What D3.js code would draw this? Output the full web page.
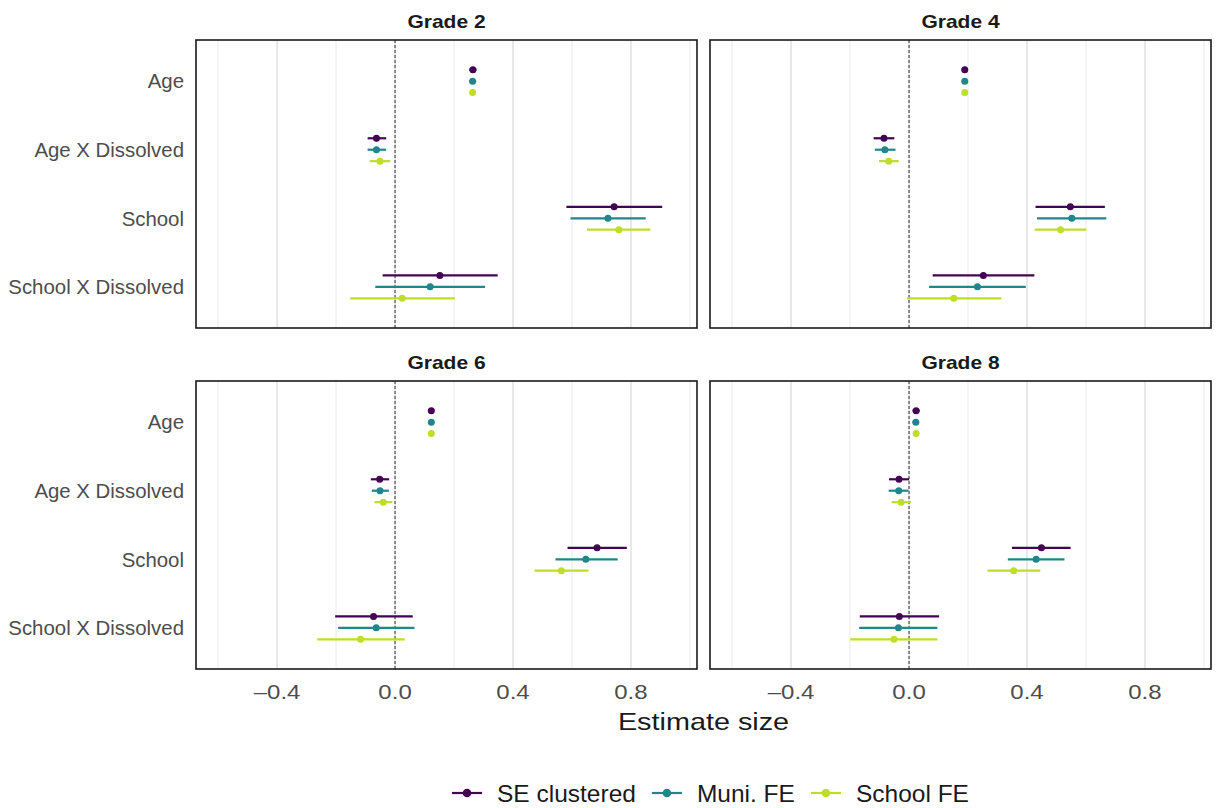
<!DOCTYPE html>
<html>
<head>
<meta charset="utf-8">
<script src="https://cdn.jsdelivr.net/npm/d3@7"></script>
<style>
  body { margin: 0; background: #fff; }
  svg { display: block; font-family: "Liberation Sans", Arial, sans-serif; }
</style>
</head>
<body>
<svg id="chart" width="1216" height="808"></svg>
<script>
// facets, terms and models
var grades = ["Grade 2", "Grade 4", "Grade 6", "Grade 8"];
var terms = ["Age", "Age X Dissolved", "School", "School X Dissolved"];
var models = ["SE clustered", "Muni. FE", "School FE"];
var modelColors = ["#440154", "#21868b", "#bddf26"];
var xTicks = [-0.4, 0.0, 0.4, 0.8];
var xMinor = [-0.6, -0.2, 0.2, 0.6, 1.0];

// estimates, one row per grade, one value per term
var seEst = [[0.264, -0.063, 0.743, 0.152], [0.189, -0.085, 0.547, 0.252], [0.123, -0.052, 0.685, -0.073], [0.024, -0.034, 0.449, -0.033]];
var seLow = [[0.252, -0.093, 0.581, -0.042], [0.178, -0.120, 0.429, 0.080], [0.113, -0.082, 0.585, -0.203], [0.012, -0.068, 0.349, -0.167]];
var seHigh = [[0.276, -0.030, 0.906, 0.348], [0.200, -0.050, 0.664, 0.425], [0.133, -0.020, 0.786, 0.060], [0.036, 0.000, 0.548, 0.102]];

var muniEst = [[0.263, -0.063, 0.722, 0.119], [0.189, -0.082, 0.552, 0.232], [0.123, -0.051, 0.647, -0.064], [0.023, -0.035, 0.431, -0.036]];
var muniLow = [[0.251, -0.093, 0.595, -0.067], [0.179, -0.116, 0.434, 0.068], [0.114, -0.079, 0.544, -0.193], [0.012, -0.069, 0.335, -0.169]];
var muniHigh = [[0.275, -0.030, 0.850, 0.305], [0.199, -0.046, 0.669, 0.396], [0.132, -0.021, 0.755, 0.066], [0.034, -0.002, 0.527, 0.096]];

var schoolEst = [[0.263, -0.051, 0.759, 0.024], [0.189, -0.069, 0.514, 0.152], [0.123, -0.040, 0.564, -0.117], [0.024, -0.027, 0.355, -0.051]];
var schoolLow = [[0.256, -0.086, 0.651, -0.152], [0.182, -0.102, 0.426, -0.007], [0.117, -0.070, 0.473, -0.264], [0.017, -0.059, 0.266, -0.199]];
var schoolHigh = [[0.270, -0.016, 0.866, 0.203], [0.196, -0.035, 0.601, 0.313], [0.129, -0.009, 0.656, 0.033], [0.031, 0.007, 0.445, 0.096]];

var estAll = [seEst, muniEst, schoolEst];
var lowAll = [seLow, muniLow, schoolLow];
var highAll = [seHigh, muniHigh, schoolHigh];

var svg = d3.select("#chart");

var panelW = 501, panelH = 288;
var panelX = [196, 710], panelY = [40, 381];
var stretch = 1.2; // titles and x axis text in the original are drawn a bit wide

var x = d3.scaleLinear().domain([-0.675, 1.024]).range([0, panelW]);
var y = d3.scalePoint().domain(terms).range([0, panelH]).padding(0.6);
var dodge = d3.scalePoint().domain(models).range([-0.1667, 0.1667]);

function wideText(sel, tx, ty) {
  return sel.attr("transform", "translate(" + tx + "," + ty + ") scale(" + stretch + ",1)");
}

grades.forEach(function(grade, gi) {
  var px = panelX[gi % 2], py = panelY[Math.floor(gi / 2)];
  var g = svg.append("g").attr("transform", "translate(" + px + "," + py + ")");

  // strip title
  wideText(svg.append("text"), px + panelW / 2, py - 12.5)
    .attr("text-anchor", "middle")
    .attr("font-weight", "bold").attr("font-size", 17.5)
    .attr("fill", "#1a1a1a")
    .text(grade);

  // grid
  g.selectAll(".minor").data(xMinor).enter().append("line")
    .attr("x1", x).attr("x2", x).attr("y1", 0).attr("y2", panelH)
    .attr("stroke", "#ebebeb").attr("stroke-width", 1);
  g.selectAll(".major").data(xTicks).enter().append("line")
    .attr("x1", x).attr("x2", x).attr("y1", 0).attr("y2", panelH)
    .attr("stroke", "#e6e6e6").attr("stroke-width", 1.8);

  // zero line
  g.append("line")
    .attr("x1", x(0)).attr("x2", x(0)).attr("y1", 0).attr("y2", panelH)
    .attr("stroke", "#333").attr("stroke-width", 1)
    .attr("stroke-dasharray", "3,2");

  // category labels on left panels
  if (gi % 2 === 0) {
    svg.selectAll(null).data(terms).enter().append("text")
      .attr("x", px - 12).attr("y", function(d) { return py + y(d); })
      .attr("dy", "0.36em").attr("text-anchor", "end")
      .attr("font-size", 20.4).attr("fill", "#4d4d4d")
      .text(function(d) { return d; });
  }

  // x tick labels on bottom panels
  if (gi >= 2) {
    xTicks.forEach(function(d) {
      wideText(svg.append("text"), px + x(d), py + panelH + 30)
        .attr("text-anchor", "middle")
        .attr("font-size", 20).attr("fill", "#4d4d4d")
        .text(d < 0 ? "\u2013" + d3.format(".1f")(-d) : d3.format(".1f")(d));
    });
  }

  // error bars and points
  models.forEach(function(m, mi) {
    terms.forEach(function(t, ti) {
      var cy = y(t) + dodge(m) * y.step();
      g.append("line")
        .attr("x1", x(lowAll[mi][gi][ti])).attr("x2", x(highAll[mi][gi][ti]))
        .attr("y1", cy).attr("y2", cy)
        .attr("stroke", modelColors[mi]).attr("stroke-width", 2.2);
      g.append("circle")
        .attr("cx", x(estAll[mi][gi][ti])).attr("cy", cy).attr("r", 3.5)
        .attr("fill", modelColors[mi]);
    });
  });

  // panel border
  g.append("rect")
    .attr("width", panelW).attr("height", panelH)
    .attr("fill", "none").attr("stroke", "#1a1a1a").attr("stroke-width", 1.6);
});

// axis title
wideText(svg.append("text"), (panelX[0] + panelX[1] + panelW) / 2, 730)
  .attr("text-anchor", "middle")
  .attr("font-size", 24).attr("fill", "#1a1a1a")
  .text("Estimate size");

// legend
var legend = svg.append("g");
var lx = 452;
models.forEach(function(m, mi) {
  var item = legend.append("g").attr("transform", "translate(" + lx + ",793)");
  item.append("line").attr("x1", 0).attr("x2", 30).attr("y1", 0).attr("y2", 0)
    .attr("stroke", modelColors[mi]).attr("stroke-width", 2.2);
  item.append("circle").attr("cx", 15).attr("cy", 0).attr("r", 4.3)
    .attr("fill", modelColors[mi]);
  var txt = item.append("text").attr("x", 45).attr("dy", "0.36em")
    .attr("font-size", 24.5).attr("fill", "#1a1a1a").text(m);
  lx += 45 + txt.node().getComputedTextLength() + 16;
});
</script>
</body>
</html>
